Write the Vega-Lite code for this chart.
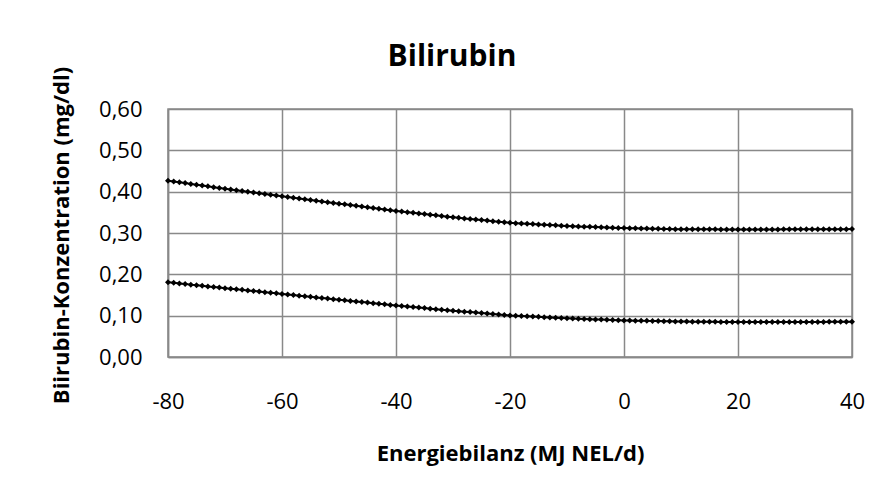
{
  "$schema": "https://vega.github.io/schema/vega-lite/v6.json",
  "width": 684,
  "height": 248,
  "autosize": "none",
  "padding": {"left": 168, "top": 109, "right": 29, "bottom": 135},
  "background": "white",
  "config": {
    "locale": {"number": {"decimal": ",", "thousands": ".", "grouping": [3], "currency": ["", " €"], "minus": "-"}},
    "view": {"stroke": "#898989", "strokeWidth": 1.5},
    "font": "Open Sans"
  },
  "title": {"text": "Bilirubin", "font": "Open Sans", "fontSize": 30, "fontWeight": "bold", "color": "black", "anchor": "middle", "frame": "group", "dx": -58, "dy": 35, "baseline": "alphabetic", "offset": 5},
  "data": {"values": [
{"x":-80,"s":"o","y":0.4265},{"x":-79,"s":"o","y":0.4246},{"x":-78,"s":"o","y":0.4226},{"x":-77,"s":"o","y":0.4207},{"x":-76,"s":"o","y":0.4187},{"x":-75,"s":"o","y":0.4168},{"x":-74,"s":"o","y":0.4148},{"x":-73,"s":"o","y":0.4129},{"x":-72,"s":"o","y":0.4109},{"x":-71,"s":"o","y":0.4090},
{"x":-70,"s":"o","y":0.4070},{"x":-69,"s":"o","y":0.4052},{"x":-68,"s":"o","y":0.4034},{"x":-67,"s":"o","y":0.4015},{"x":-66,"s":"o","y":0.3997},{"x":-65,"s":"o","y":0.3979},{"x":-64,"s":"o","y":0.3961},{"x":-63,"s":"o","y":0.3943},{"x":-62,"s":"o","y":0.3924},{"x":-61,"s":"o","y":0.3906},
{"x":-60,"s":"o","y":0.3888},{"x":-59,"s":"o","y":0.3870},{"x":-58,"s":"o","y":0.3852},{"x":-57,"s":"o","y":0.3835},{"x":-56,"s":"o","y":0.3817},{"x":-55,"s":"o","y":0.3799},{"x":-54,"s":"o","y":0.3781},{"x":-53,"s":"o","y":0.3763},{"x":-52,"s":"o","y":0.3746},{"x":-51,"s":"o","y":0.3728},
{"x":-50,"s":"o","y":0.3710},{"x":-49,"s":"o","y":0.3693},{"x":-48,"s":"o","y":0.3675},{"x":-47,"s":"o","y":0.3658},{"x":-46,"s":"o","y":0.3640},{"x":-45,"s":"o","y":0.3623},{"x":-44,"s":"o","y":0.3605},{"x":-43,"s":"o","y":0.3588},{"x":-42,"s":"o","y":0.3570},{"x":-41,"s":"o","y":0.3553},
{"x":-40,"s":"o","y":0.3535},{"x":-39,"s":"o","y":0.3520},{"x":-38,"s":"o","y":0.3504},{"x":-37,"s":"o","y":0.3489},{"x":-36,"s":"o","y":0.3473},{"x":-35,"s":"o","y":0.3458},{"x":-34,"s":"o","y":0.3442},{"x":-33,"s":"o","y":0.3427},{"x":-32,"s":"o","y":0.3411},{"x":-31,"s":"o","y":0.3396},
{"x":-30,"s":"o","y":0.3380},{"x":-29,"s":"o","y":0.3367},{"x":-28,"s":"o","y":0.3353},{"x":-27,"s":"o","y":0.3340},{"x":-26,"s":"o","y":0.3326},{"x":-25,"s":"o","y":0.3313},{"x":-24,"s":"o","y":0.3300},{"x":-23,"s":"o","y":0.3286},{"x":-22,"s":"o","y":0.3273},{"x":-21,"s":"o","y":0.3259},
{"x":-20,"s":"o","y":0.3246},{"x":-19,"s":"o","y":0.3238},{"x":-18,"s":"o","y":0.3231},{"x":-17,"s":"o","y":0.3223},{"x":-16,"s":"o","y":0.3216},{"x":-15,"s":"o","y":0.3208},{"x":-14,"s":"o","y":0.3200},{"x":-13,"s":"o","y":0.3193},{"x":-12,"s":"o","y":0.3185},{"x":-11,"s":"o","y":0.3178},
{"x":-10,"s":"o","y":0.3170},{"x":-9,"s":"o","y":0.3165},{"x":-8,"s":"o","y":0.3160},{"x":-7,"s":"o","y":0.3154},{"x":-6,"s":"o","y":0.3149},{"x":-5,"s":"o","y":0.3144},{"x":-4,"s":"o","y":0.3139},{"x":-3,"s":"o","y":0.3134},{"x":-2,"s":"o","y":0.3128},{"x":-1,"s":"o","y":0.3123},
{"x":0,"s":"o","y":0.3118},{"x":1,"s":"o","y":0.3115},{"x":2,"s":"o","y":0.3113},{"x":3,"s":"o","y":0.3110},{"x":4,"s":"o","y":0.3107},{"x":5,"s":"o","y":0.3104},{"x":6,"s":"o","y":0.3102},{"x":7,"s":"o","y":0.3099},{"x":8,"s":"o","y":0.3096},{"x":9,"s":"o","y":0.3093},
{"x":10,"s":"o","y":0.3090},{"x":11,"s":"o","y":0.3090},{"x":12,"s":"o","y":0.3089},{"x":13,"s":"o","y":0.3089},{"x":14,"s":"o","y":0.3088},{"x":15,"s":"o","y":0.3088},{"x":16,"s":"o","y":0.3088},{"x":17,"s":"o","y":0.3087},{"x":18,"s":"o","y":0.3087},{"x":19,"s":"o","y":0.3086},
{"x":20,"s":"o","y":0.3086},{"x":21,"s":"o","y":0.3086},{"x":22,"s":"o","y":0.3086},{"x":23,"s":"o","y":0.3087},{"x":24,"s":"o","y":0.3087},{"x":25,"s":"o","y":0.3087},{"x":26,"s":"o","y":0.3087},{"x":27,"s":"o","y":0.3087},{"x":28,"s":"o","y":0.3088},{"x":29,"s":"o","y":0.3088},
{"x":30,"s":"o","y":0.3088},{"x":31,"s":"o","y":0.3089},{"x":32,"s":"o","y":0.3089},{"x":33,"s":"o","y":0.3090},{"x":34,"s":"o","y":0.3091},{"x":35,"s":"o","y":0.3091},{"x":36,"s":"o","y":0.3092},{"x":37,"s":"o","y":0.3092},{"x":38,"s":"o","y":0.3093},{"x":39,"s":"o","y":0.3093},
{"x":40,"s":"o","y":0.3094},
{"x":-80,"s":"u","y":0.1808},{"x":-79,"s":"u","y":0.1794},{"x":-78,"s":"u","y":0.1779},{"x":-77,"s":"u","y":0.1765},{"x":-76,"s":"u","y":0.1751},{"x":-75,"s":"u","y":0.1737},{"x":-74,"s":"u","y":0.1722},{"x":-73,"s":"u","y":0.1708},{"x":-72,"s":"u","y":0.1694},{"x":-71,"s":"u","y":0.1679},
{"x":-70,"s":"u","y":0.1665},{"x":-69,"s":"u","y":0.1651},{"x":-68,"s":"u","y":0.1637},{"x":-67,"s":"u","y":0.1624},{"x":-66,"s":"u","y":0.1610},{"x":-65,"s":"u","y":0.1596},{"x":-64,"s":"u","y":0.1582},{"x":-63,"s":"u","y":0.1568},{"x":-62,"s":"u","y":0.1555},{"x":-61,"s":"u","y":0.1541},
{"x":-60,"s":"u","y":0.1527},{"x":-59,"s":"u","y":0.1513},{"x":-58,"s":"u","y":0.1499},{"x":-57,"s":"u","y":0.1484},{"x":-56,"s":"u","y":0.1470},{"x":-55,"s":"u","y":0.1456},{"x":-54,"s":"u","y":0.1442},{"x":-53,"s":"u","y":0.1428},{"x":-52,"s":"u","y":0.1413},{"x":-51,"s":"u","y":0.1399},
{"x":-50,"s":"u","y":0.1385},{"x":-49,"s":"u","y":0.1371},{"x":-48,"s":"u","y":0.1357},{"x":-47,"s":"u","y":0.1343},{"x":-46,"s":"u","y":0.1329},{"x":-45,"s":"u","y":0.1316},{"x":-44,"s":"u","y":0.1302},{"x":-43,"s":"u","y":0.1288},{"x":-42,"s":"u","y":0.1274},{"x":-41,"s":"u","y":0.1260},
{"x":-40,"s":"u","y":0.1246},{"x":-39,"s":"u","y":0.1233},{"x":-38,"s":"u","y":0.1221},{"x":-37,"s":"u","y":0.1208},{"x":-36,"s":"u","y":0.1196},{"x":-35,"s":"u","y":0.1183},{"x":-34,"s":"u","y":0.1170},{"x":-33,"s":"u","y":0.1158},{"x":-32,"s":"u","y":0.1145},{"x":-31,"s":"u","y":0.1133},
{"x":-30,"s":"u","y":0.1120},{"x":-29,"s":"u","y":0.1109},{"x":-28,"s":"u","y":0.1097},{"x":-27,"s":"u","y":0.1086},{"x":-26,"s":"u","y":0.1074},{"x":-25,"s":"u","y":0.1063},{"x":-24,"s":"u","y":0.1052},{"x":-23,"s":"u","y":0.1040},{"x":-22,"s":"u","y":0.1029},{"x":-21,"s":"u","y":0.1017},
{"x":-20,"s":"u","y":0.1006},{"x":-19,"s":"u","y":0.0999},{"x":-18,"s":"u","y":0.0992},{"x":-17,"s":"u","y":0.0985},{"x":-16,"s":"u","y":0.0978},{"x":-15,"s":"u","y":0.0971},{"x":-14,"s":"u","y":0.0963},{"x":-13,"s":"u","y":0.0956},{"x":-12,"s":"u","y":0.0949},{"x":-11,"s":"u","y":0.0942},
{"x":-10,"s":"u","y":0.0935},{"x":-9,"s":"u","y":0.0930},{"x":-8,"s":"u","y":0.0925},{"x":-7,"s":"u","y":0.0920},{"x":-6,"s":"u","y":0.0915},{"x":-5,"s":"u","y":0.0910},{"x":-4,"s":"u","y":0.0905},{"x":-3,"s":"u","y":0.0900},{"x":-2,"s":"u","y":0.0895},{"x":-1,"s":"u","y":0.0890},
{"x":0,"s":"u","y":0.0885},{"x":1,"s":"u","y":0.0882},{"x":2,"s":"u","y":0.0880},{"x":3,"s":"u","y":0.0877},{"x":4,"s":"u","y":0.0874},{"x":5,"s":"u","y":0.0872},{"x":6,"s":"u","y":0.0869},{"x":7,"s":"u","y":0.0866},{"x":8,"s":"u","y":0.0863},{"x":9,"s":"u","y":0.0861},
{"x":10,"s":"u","y":0.0858},{"x":11,"s":"u","y":0.0857},{"x":12,"s":"u","y":0.0855},{"x":13,"s":"u","y":0.0854},{"x":14,"s":"u","y":0.0853},{"x":15,"s":"u","y":0.0852},{"x":16,"s":"u","y":0.0850},{"x":17,"s":"u","y":0.0849},{"x":18,"s":"u","y":0.0848},{"x":19,"s":"u","y":0.0846},
{"x":20,"s":"u","y":0.0845},{"x":21,"s":"u","y":0.0845},{"x":22,"s":"u","y":0.0845},{"x":23,"s":"u","y":0.0845},{"x":24,"s":"u","y":0.0845},{"x":25,"s":"u","y":0.0845},{"x":26,"s":"u","y":0.0845},{"x":27,"s":"u","y":0.0845},{"x":28,"s":"u","y":0.0845},{"x":29,"s":"u","y":0.0845},
{"x":30,"s":"u","y":0.0845},{"x":31,"s":"u","y":0.0846},{"x":32,"s":"u","y":0.0847},{"x":33,"s":"u","y":0.0847},{"x":34,"s":"u","y":0.0848},{"x":35,"s":"u","y":0.0849},{"x":36,"s":"u","y":0.0850},{"x":37,"s":"u","y":0.0851},{"x":38,"s":"u","y":0.0851},{"x":39,"s":"u","y":0.0852},
{"x":40,"s":"u","y":0.0853}
  ]},
  "encoding": {
    "x": {"field": "x", "type": "quantitative",
      "scale": {"domain": [-80, 40], "nice": false, "zero": false},
      "axis": {"values": [-80, -60, -40, -20, 0, 20, 40], "format": "d", "ticks": false,
        "domain": true, "domainColor": "#898989", "domainWidth": 1.5,
        "grid": true, "gridColor": "#898989", "gridWidth": 1.5, "gridOpacity": 1,
        "labelFont": "Open Sans", "labelFontSize": 22, "labelColor": "black", "labelBaseline": "alphabetic", "labelPadding": 51, "labelFlush": false,
        "title": "Energiebilanz (MJ NEL/d)", "titleFont": "Open Sans", "titleFontSize": 22, "titleFontWeight": "bold", "titleColor": "black",
        "titleX": 342, "titleY": 103, "titleBaseline": "alphabetic", "titleAlign": "center"}},
    "y": {"field": "y", "type": "quantitative",
      "scale": {"domain": [0, 0.6], "nice": false},
      "axis": {"values": [0, 0.1, 0.2, 0.3, 0.4, 0.5, 0.6], "format": ".2f", "ticks": false,
        "domain": true, "domainColor": "#898989", "domainWidth": 1.5,
        "grid": true, "gridColor": "#898989", "gridWidth": 1.5, "gridOpacity": 1,
        "labelFont": "Open Sans", "labelFontSize": 22, "labelColor": "black", "labelBaseline": "middle", "labelPadding": 26, "labelFlush": false,
        "title": "Biirubin-Konzentration (mg/dl)", "titleFont": "Open Sans", "titleFontSize": 22, "titleFontWeight": "bold", "titleColor": "black",
        "titleAngle": -90, "titleX": -100, "titleY": 126, "titleBaseline": "alphabetic", "titleAlign": "center"}},
    "detail": {"field": "s", "type": "nominal"}
  },
  "layer": [
    {"mark": {"type": "line", "color": "black", "strokeWidth": 2}},
    {"mark": {"type": "point", "shape": "diamond", "filled": true, "color": "black", "size": 36, "opacity": 1}}
  ]
}
